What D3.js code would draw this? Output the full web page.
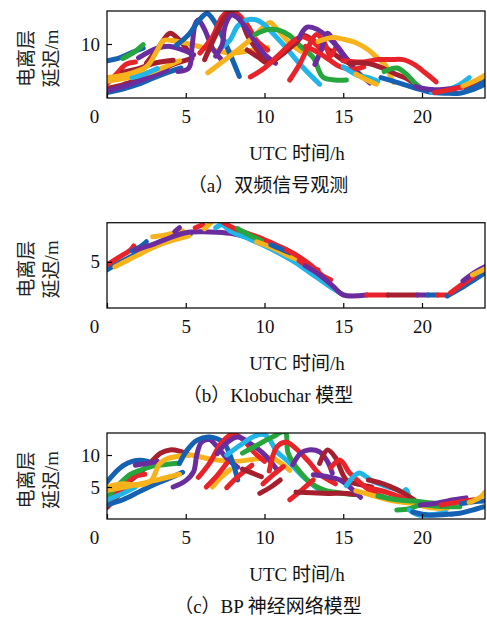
<!DOCTYPE html>
<html><head><meta charset="utf-8">
<script src="https://cdn.jsdelivr.net/npm/d3@7"></script>
<style>
html,body{margin:0;padding:0;background:#fff;}
svg{display:block;}
</style></head>
<body>
<svg id="chart" width="487" height="618"></svg>
<script>
// ---------------- DATA ----------------
const xTicks = [0, 5, 10, 15, 20];
const yTicksA = [10];
const yTicksB = [5];
const yTicksC = [5, 10];
const xTitle = "UTC 时间/h";
const yTitle = ["电离层", "延迟/m"];
const captions = ["（a）双频信号观测", "（b）Klobuchar 模型", "（c）BP 神经网络模型"];
const groups = ["blue", "red", "darkred", "yellow", "purple", "green", "cyan"];

// (a) dual-frequency observations: [hour, delay m]
const obsArcs = [
  {g:"blue",    p:[[0,1.9],[1,2.5],[2,3.3],[3,4.4],[4,5.4],[4.7,6.0]]},
  {g:"darkred", p:[[0,2.6],[1,3.2],[2,4.1],[3,5.1],[4.2,6.6],[5.4,7.6]]},
  {g:"purple",  p:[[0,2.2],[1,2.9],[2,3.8],[3,4.8],[3.8,5.6]]},
  {g:"red",     p:[[0,3.4],[0.6,5.0],[1.2,6.6],[1.8,7.0]]},
  {g:"yellow",  p:[[0,3.8],[1.5,4.5],[3,5.5],[4.6,7.2]]},
  {g:"blue",    p:[[0,7.2],[0.8,7.7],[1.6,8.6],[2.3,9.3]]},
  {g:"green",   p:[[1.0,7.6],[1.7,8.6],[2.3,9.9]]},
  {g:"cyan",    p:[[1.6,4.4],[2.4,5.0],[3.2,5.9]]},
  {g:"darkred", p:[[1.0,5.3],[2.0,5.9],[3.0,6.8],[4.2,7.3]]},
  {g:"darkred", p:[[2.5,6.8],[3.3,9.5],[4.0,11.8],[4.6,10.6],[5.1,9.0]]},
  {g:"purple",  p:[[2.0,7.7],[3.2,9.3],[4.0,9.6],[4.8,9.0],[5.5,8.2]]},
  {g:"yellow",  p:[[0,4.4],[1.2,4.9],[2.5,6.2],[3.2,9.0],[3.6,10.6],[4.3,10.5],[5.1,10.1],[6.7,9.0],[8.0,8.5],[9.3,9.0],[10.2,9.4]]},
  {g:"purple",  p:[[4.5,5.4],[5.2,6.0],[5.4,9.5],[5.6,13.3],[5.8,14.0],[6.2,12.4],[6.7,9.3],[7.3,7.3]]},
  {g:"blue",    p:[[4.4,9.8],[5.2,11.6],[5.8,13.8],[6.35,15.1],[6.9,13.4],[7.6,9.6],[8.4,4.6]]},
  {g:"red",     p:[[5.9,8.5],[6.7,11.2],[7.3,14.5],[7.7,15.4],[8.2,15.2],[8.9,13.2],[9.5,10.6],[10.2,9.0]]},
  {g:"darkred", p:[[6.2,7.4],[7.0,12.0],[7.7,15.0],[8.4,14.2],[9.0,11.0],[9.6,8.8],[10.2,6.8]]},
  {g:"yellow",  p:[[6.4,5.2],[7.2,6.8],[8.2,8.8],[9.3,11.2],[10.0,13.0],[10.35,13.6],[10.8,12.5],[11.5,10.4],[12.3,8.8]]},
  {g:"cyan",    p:[[7.2,9.3],[7.8,10.6],[8.3,13.0],[8.9,14.0],[9.5,14.0],[9.9,13.4],[10.6,11.6],[11.3,9.6],[12.4,6.2],[13.5,3.3]]},
  {g:"purple",  p:[[6.9,8.0],[7.3,9.8],[7.5,13.0],[7.9,14.8],[8.4,14.1],[9.3,10.8],[10.0,8.3],[10.7,6.8]]},
  {g:"green",   p:[[9.4,11.6],[10.2,12.4],[10.9,12.3],[11.6,11.4],[12.3,9.6],[13.1,7.7],[13.7,4.5],[14.5,4.0],[15.2,4.0]]},
  {g:"darkred", p:[[8.9,9.0],[9.6,7.8],[10.2,6.8],[11.0,8.0],[12.0,10.2],[12.5,11.4],[13.2,10.4],[14.0,9.2],[14.8,7.6],[15.6,6.5]]},
  {g:"red",     p:[[9.1,4.5],[10.0,6.0],[11.0,8.4],[11.8,10.4],[12.4,11.2],[13.0,10.5],[13.6,9.0]]},
  {g:"red",     p:[[11.6,4.0],[12.2,6.5],[12.8,9.6],[13.3,11.6],[13.8,10.2],[14.2,8.0],[14.6,9.6],[15.0,8.2],[15.4,7.0]]},
  {g:"purple",  p:[[12.2,11.0],[12.7,12.8],[13.3,12.5],[14.0,11.2],[14.6,9.6],[15.2,7.6],[15.8,5.6],[16.7,3.5]]},
  {g:"purple",  p:[[13.2,6.6],[13.6,9.0],[14.0,11.8],[14.5,10.0],[15.0,8.0]]},
  {g:"red",     p:[[12.6,9.6],[13.4,8.6],[14.1,7.4],[14.8,6.2],[15.6,5.8],[16.3,6.2]]},
  {g:"yellow",  p:[[13.4,10.4],[14.3,11.1],[15.0,10.8],[15.8,10.2],[16.6,9.0],[17.2,7.6],[17.7,6.4],[18.0,4.6],[18.2,3.6]]},
  {g:"cyan",    p:[[15.0,6.2],[15.9,4.8],[16.6,4.4],[17.2,3.8]]},
  {g:"yellow",  p:[[15.8,5.0],[16.5,4.0],[17.1,3.3]]},
  {g:"red",     p:[[15.0,7.2],[16.3,7.0],[17.2,7.4],[18.0,7.4],[18.8,7.4],[19.5,6.6],[20.2,5.2],[20.9,3.7]]},
  {g:"darkred", p:[[15.4,6.8],[16.5,6.8],[17.5,6.0],[18.3,5.0],[19.0,4.3],[19.5,3.4],[19.9,2.7]]},
  {g:"green",   p:[[17.6,5.4],[18.4,6.0],[19.0,5.0],[19.5,3.6],[19.9,2.7]]},
  {g:"blue",    p:[[17.4,4.4],[18.4,3.6],[19.5,2.7],[20.5,2.0],[21.5,1.8],[22.4,1.8],[23.2,2.4],[24,3.3]]},
  {g:"cyan",    p:[[20.6,1.9],[21.5,2.3],[22.3,3.1],[23.0,4.4]]},
  {g:"purple",  p:[[19.6,2.9],[20.6,2.4],[21.6,2.5],[22.8,2.9]]},
  {g:"red",     p:[[20.8,1.9],[21.8,2.4],[22.8,3.0],[23.7,3.5]]},
  {g:"yellow",  p:[[22.6,3.0],[23.4,3.9],[24,4.8]]},
  {g:"blue",    p:[[22.8,2.2],[23.5,3.0],[24,3.8]]}
];

// (b) Klobuchar model
const kloArcs = [
  {g:"blue",    p:[[0,4.2],[1,5.1],[2,5.9],[2.7,6.5],[3.5,7.1],[4.5,7.5],[5.3,7.8]]},
  {g:"red",     p:[[0,4.7],[0.8,5.5],[1.5,6.2],[1.7,6.6]]},
  {g:"yellow",  p:[[0.5,4.5],[1.5,5.3],[2.5,6.1],[3.5,6.8],[4.5,7.3],[5.2,7.6]]},
  {g:"blue",    p:[[1.6,6.1],[2.2,6.6],[2.5,7.0]]},
  {g:"yellow",  p:[[2.9,7.5],[3.8,7.7],[4.8,8.1]]},
  {g:"purple",  p:[[1.8,6.2],[3,6.8],[4,7.4],[5,7.9],[6,8.0],[7,7.95],[8,7.8],[9,7.45],[10,6.95],[10.8,6.5]]},
  {g:"purple",  p:[[4.3,8.0],[4.6,8.4]]},
  {g:"red",     p:[[5.6,8.4],[6.1,8.7]]},
  {g:"yellow",  p:[[6.2,8.3],[6.6,8.9]]},
  {g:"cyan",    p:[[6.9,8.4],[7.3,8.7],[7.8,8.1],[9,7.3],[10,6.6],[11,5.8],[12,4.9],[13,3.8],[14,2.7],[15,1.7]]},
  {g:"red",     p:[[7.4,8.9],[8,8.4],[9,7.8],[10,7.2],[11,6.5],[11.4,6.2]]},
  {g:"green",   p:[[8.3,8.3],[9,7.7],[9.8,7.1]]},
  {g:"yellow",  p:[[9.5,7.0],[10.5,6.4],[11.5,5.6],[12,5.3]]},
  {g:"blue",    p:[[10.4,6.7],[11,6.3],[11.6,5.9]]},
  {g:"red",     p:[[11.4,6.2],[12.2,5.5],[13,4.6],[13.7,3.6],[14.2,3.2]]},
  {g:"red",     p:[[12.2,5.1],[12.8,4.5],[13.4,4.2]]},
  {g:"purple",  p:[[12.6,4.6],[13.5,3.7],[14.4,2.5],[15,1.7],[16.5,1.7]]},
  {g:"red",     p:[[16.5,1.7],[17.85,1.7]]},
  {g:"darkred", p:[[17.85,1.7],[19.7,1.7]]},
  {g:"purple",  p:[[19.7,1.7],[20.4,1.7]]},
  {g:"blue",    p:[[20.4,1.7],[21.0,1.7]]},
  {g:"red",     p:[[21.0,1.7],[21.6,1.7]]},
  {g:"blue",    p:[[21.6,1.6],[22.5,2.4],[23.4,3.3],[24,3.9]]},
  {g:"red",     p:[[21.8,1.9],[22.6,2.8],[23.3,3.5]]},
  {g:"purple",  p:[[22.6,3.1],[23.4,4.0],[24,4.5]]},
  {g:"yellow",  p:[[23.2,3.7],[24,4.3]]}
];

// (c) BP neural network model
const bpArcs = [
  {g:"darkred", p:[[0,1.8],[0.7,3.6],[1.3,5.6],[2.0,7.0],[2.6,8.4],[3.4,10.3],[4.0,10.8],[4.6,10.6],[5.2,10.0]]},
  {g:"red",     p:[[0,2.5],[0.9,4.8],[1.7,6.6],[2.4,7.0]]},
  {g:"blue",    p:[[0,2.2],[1,3.0],[2,4.2],[3,5.4],[4,6.4],[4.8,7.3]]},
  {g:"green",   p:[[0,3.3],[0.8,5.5],[1.5,7.0],[2.1,7.6],[3,8.3],[4,8.6],[4.6,8.7]]},
  {g:"cyan",    p:[[0,3.0],[1,4.0],[1.8,5.0]]},
  {g:"yellow",  p:[[0,4.5],[1.5,5.2],[3,6.0],[4.6,7.0]]},
  {g:"blue",    p:[[0,5.8],[0.5,7.2],[1,8.3],[1.6,9.0],[2.1,9.2],[2.6,9.0]]},
  {g:"purple",  p:[[1.8,8.4],[2.6,8.7],[3.2,9.0]]},
  {g:"yellow",  p:[[0,5.0],[1,5.5],[2,5.3],[2.8,6.0],[3.3,8.5],[3.7,9.3],[4.5,9.8],[5.3,10.0],[6.5,9.4],[8,9.0],[9.5,9.4],[10.4,9.6],[11,8.8],[11.6,7.6]]},
  {g:"purple",  p:[[4.2,5.0],[5.0,6.0],[5.5,7.4],[5.7,10.0],[6.0,12.0],[6.5,12.4],[7.0,11.3],[7.6,9.5],[8.3,8.1]]},
  {g:"blue",    p:[[4.6,8.7],[5.1,10.8],[5.7,12.3],[6.5,12.8],[7.4,11.9],[7.9,9.4],[8.3,6.1]]},
  {g:"yellow",  p:[[6.7,5.0],[7.2,6.4],[7.8,7.7]]},
  {g:"red",     p:[[5.8,6.5],[6.5,8.7],[7.3,12.0],[8.0,13.3],[8.6,12.5],[9.3,10.5],[10.0,9.0]]},
  {g:"red",     p:[[6.3,5.0],[7.0,6.8],[7.6,8.7]]},
  {g:"red",     p:[[7.6,4.9],[8.4,6.8],[9.2,8.4]]},
  {g:"purple",  p:[[7.0,10.2],[7.6,11.9],[8.3,12.8],[9.1,11.8],[9.9,10.3],[10.8,7.7]]},
  {g:"cyan",    p:[[7.6,10.0],[8.5,11.6],[9.4,13.0],[10.0,13.2],[10.3,12.5],[10.8,10.5],[11.5,9.0],[12.5,6.5],[13.5,4.5]]},
  {g:"darkred", p:[[8.6,7.8],[9.2,7.2],[9.8,6.6]]},
  {g:"darkred", p:[[9.7,4.0],[10.4,5.0],[11.0,6.1]]},
  {g:"green",   p:[[8.6,10.3],[9.5,11.5],[10.5,12.8],[11.3,13.6],[11.5,10.3],[12.3,7.2],[13.0,5.5],[13.8,4.5],[15,4.0],[16,3.8]]},
  {g:"red",     p:[[10.3,7.5],[10.8,11.3],[11.4,12.0],[12.0,11.0],[12.8,9.0],[13.5,7.0],[14.5,5.5]]},
  {g:"red",     p:[[11.6,3.0],[12.4,4.6],[13.1,6.1]]},
  {g:"red",     p:[[9.9,5.5],[10.6,7.0],[11.2,8.2]]},
  {g:"purple",  p:[[11.8,8.5],[12.3,10.3],[12.8,10.8],[13.5,10.5],[14.0,9.0],[14.3,7.2]]},
  {g:"darkred", p:[[12.0,4.2],[13.0,4.1],[14.0,4.0],[15.2,4.0],[16.0,3.8]]},
  {g:"purple",  p:[[13.1,6.9],[14.0,6.6],[14.8,6.1],[15.5,4.8],[16.1,3.4]]},
  {g:"darkred", p:[[13.5,8.7],[14.0,10.8],[14.5,9.6],[15.2,6.1],[16.0,5.4],[16.8,5.0]]},
  {g:"red",     p:[[14.2,8.0],[14.8,9.2],[15.4,7.2],[16.2,5.4],[16.9,4.1],[17.6,3.4]]},
  {g:"cyan",    p:[[15.2,5.2],[16.0,7.2],[16.8,6.0],[17.6,5.2],[18.4,4.6],[18.8,4.2],[19.0,4.6],[19.2,3.2]]},
  {g:"darkred", p:[[16.6,6.1],[17.4,5.6],[18.4,4.6],[19.5,3.0]]},
  {g:"red",     p:[[16.6,4.8],[17.3,4.5],[18.2,3.8],[19.0,3.0]]},
  {g:"yellow",  p:[[15.8,4.4],[17.0,3.6],[18.2,2.8],[19.5,2.4],[20.5,1.8],[21.6,1.6]]},
  {g:"green",   p:[[17.2,3.6],[18.4,3.0],[19.5,2.8],[20.6,2.5],[21.8,2.2]]},
  {g:"green",   p:[[18.4,1.4],[19.2,1.6],[19.9,2.2],[21.0,2.0],[22.4,1.9]]},
  {g:"cyan",    p:[[19.2,1.4],[19.8,0.6],[20.6,0.7],[21.5,1.0]]},
  {g:"blue",    p:[[19.4,1.1],[20.5,0.6],[21.5,0.7],[22.4,0.9],[23.2,1.4],[23.9,1.9]]},
  {g:"purple",  p:[[19.9,2.2],[21.0,2.5],[22.0,3.0],[22.8,3.3]]},
  {g:"red",     p:[[21.2,2.2],[22.2,2.6],[23.3,3.0]]},
  {g:"blue",    p:[[22.5,2.4],[23.3,2.7],[24,2.8]]},
  {g:"yellow",  p:[[23.0,2.6],[23.7,3.4],[24,4.2]]}
];

// ---------------- RENDER ----------------
const palette = d3.scaleOrdinal().domain(groups)
  .range(["#1562b4", "#e8242a", "#a61f2e", "#f8b21c", "#6b2c9e", "#27a63d", "#21b5e8"]);

const svg = d3.select("#chart");
svg.append("rect").attr("width", 487).attr("height", 618).attr("fill", "#fff");

const L = 107, R = 485;
const serif = "'Liberation Serif','Noto Sans CJK SC',serif";

const panels = [
  {arcs: obsArcs, top: 11,    bottom: 98,  yDomain: [1, 15.5],   yTicks: yTicksA, cap: captions[0]},
  {arcs: kloArcs, top: 222.7, bottom: 308, yDomain: [0.4, 8.9],  yTicks: yTicksB, cap: captions[1]},
  {arcs: bpArcs,  top: 433,   bottom: 519, yDomain: [0, 13.44],  yTicks: yTicksC, cap: captions[2]}
];

const x = d3.scaleLinear().domain([0, 24]).range([L, R]);

panels.forEach((pn, i) => {
  const y = d3.scaleLinear().domain(pn.yDomain).range([pn.bottom, pn.top]);
  const g = svg.append("g");
  const clipId = "clip" + i;
  g.append("clipPath").attr("id", clipId).append("rect")
    .attr("x", L).attr("y", pn.top).attr("width", R - L).attr("height", pn.bottom - pn.top);

  const line = d3.line().x(d => x(d[0])).y(d => y(d[1])).curve(d3.curveCatmullRom.alpha(0.5));
  g.append("g").attr("clip-path", `url(#${clipId})`)
    .selectAll("path").data(pn.arcs).join("path")
    .attr("d", d => line(d.p))
    .attr("fill", "none")
    .attr("stroke", d => palette(d.g))
    .attr("stroke-width", 5)
    .attr("stroke-linecap", "round")
    .attr("stroke-linejoin", "round");

  // x axis
  const xa = g.append("g").attr("transform", `translate(0,${pn.bottom})`)
    .call(d3.axisBottom(x).tickValues(xTicks).tickSize(-5).tickPadding(12).tickFormat(d3.format("d")));
  xa.select(".domain").remove();
  xa.selectAll("line").attr("stroke", "#000").attr("stroke-width", 1.2);
  xa.selectAll("text").attr("font-family", serif).attr("font-size", 19).attr("fill", "#111")
    .attr("dx", d => d === 0 ? -13 : 0);

  // y axis
  const ya = g.append("g").attr("transform", `translate(${L},0)`)
    .call(d3.axisLeft(y).tickValues(pn.yTicks).tickSize(-5).tickPadding(7).tickFormat(d3.format("d")));
  ya.select(".domain").remove();
  ya.selectAll("line").attr("stroke", "#000").attr("stroke-width", 1.2);
  ya.selectAll("text").attr("font-family", serif).attr("font-size", 19).attr("fill", "#111");

  // box
  g.append("rect").attr("x", L).attr("y", pn.top).attr("width", R - L).attr("height", pn.bottom - pn.top)
    .attr("fill", "none").attr("stroke", "#111").attr("stroke-width", 1.3);

  // y label
  const cy = (pn.top + pn.bottom) / 2 + 4;
  [26, 51].forEach((cx, k) => {
    g.append("text").attr("transform", `translate(${cx},${cy}) rotate(-90)`)
      .attr("text-anchor", "middle").attr("dominant-baseline", "central")
      .attr("font-family", serif).attr("font-size", 19).attr("fill", "#222")
      .text(yTitle[k]);
  });

  // x title
  g.append("text").attr("x", 297).attr("y", pn.bottom + 62)
    .attr("text-anchor", "middle").attr("font-family", serif).attr("font-size", 19).attr("fill", "#111")
    .text(xTitle);

  // caption
  g.append("text").attr("x", 268).attr("y", pn.bottom + 94)
    .attr("text-anchor", "middle").attr("font-family", serif).attr("font-size", 19).attr("fill", "#111")
    .text(pn.cap);
});
</script>
</body></html>
